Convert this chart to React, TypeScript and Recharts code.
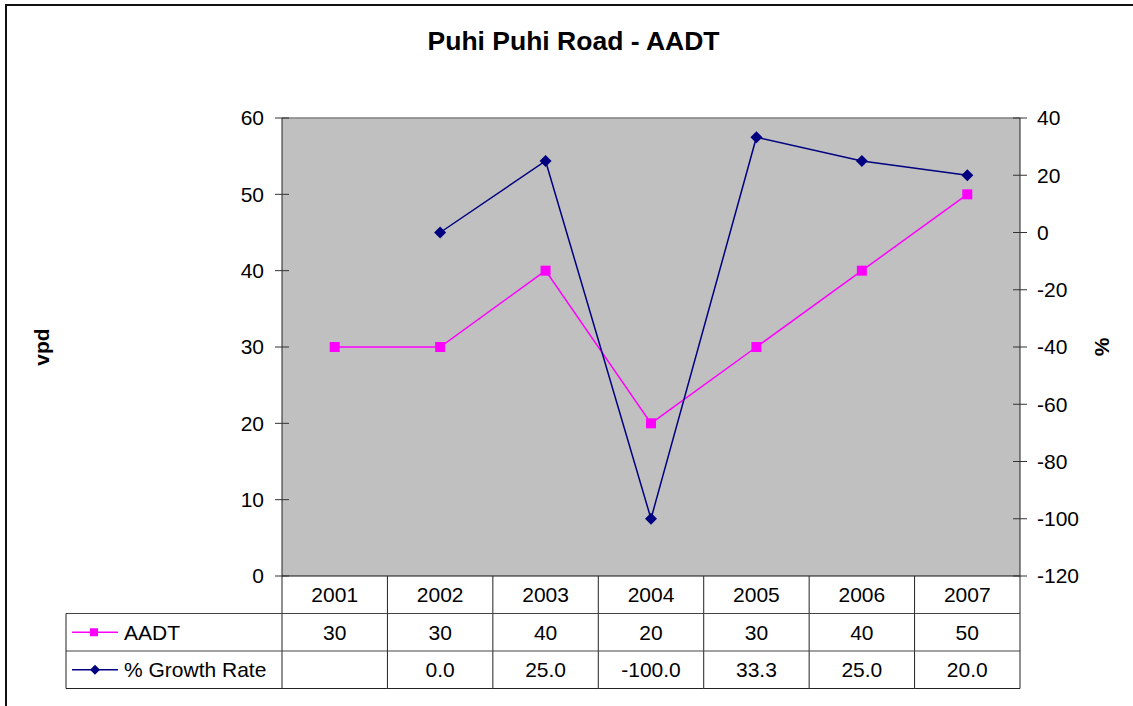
import React from "react";
import {
  ComposedChart,
  Line,
  XAxis,
  YAxis,
  CartesianGrid,
  ReferenceLine,
  Label,
} from "recharts";

const YEARS = ["2001", "2002", "2003", "2004", "2005", "2006", "2007"];
const AADT = [30, 30, 40, 20, 30, 40, 50];
const GROWTH: (number | null)[] = [null, 0.0, 25.0, -100.0, 33.3, 25.0, 20.0];
const LEFT_TICKS = [0, 10, 20, 30, 40, 50, 60];
const RIGHT_TICKS = [-120, -100, -80, -60, -40, -20, 0, 20, 40];

const FONT = '"Liberation Sans", Arial, sans-serif';
const PINK = "#FF00FF";
const NAVY = "#000080";
const ROW_H = 37.5;
const FS = 21;

const data = YEARS.map((year, i) => ({ year, aadt: AADT[i], growth: GROWTH[i] }));

const square = (props: any) => {
  const { cx, cy, index } = props;
  if (cx == null || cy == null) return <g key={`s-${index}`} />;
  return <rect key={`s-${index}`} x={cx - 5} y={cy - 5} width={10} height={10} fill={PINK} />;
};

const diamond = (props: any) => {
  const { cx, cy, index } = props;
  if (cx == null || cy == null || props.value == null) return <g key={`d-${index}`} />;
  return (
    <path
      key={`d-${index}`}
      d={`M${cx},${cy - 6} L${cx + 6},${cy} L${cx},${cy + 6} L${cx - 6},${cy} Z`}
      fill={NAVY}
    />
  );
};

// left axis: tick crosses the axis line
const LeftTick = (props: any) => {
  const { x, y, payload } = props;
  const axisX = x + 18;
  return (
    <g>
      <line x1={axisX} x2={axisX + 7} y1={y} y2={y} stroke="#333" />
      <text x={x} y={y} dy="0.35em" textAnchor="end" fontSize={FS} fontFamily={FONT} fill="#000">
        {payload.value}
      </text>
    </g>
  );
};

const RightTick = (props: any) => {
  const { x, y, payload } = props;
  const axisX = x - 17;
  return (
    <g>
      <line x1={axisX - 7} x2={axisX} y1={y} y2={y} stroke="#333" />
      <text x={x} y={y} dy="0.35em" textAnchor="start" fontSize={FS} fontFamily={FONT} fill="#000">
        {payload.value}
      </text>
    </g>
  );
};

// data table below the plot, one column per category tick
const TableTick = (props: any) => {
  const { x, y, payload, index, width, visibleTicksCount } = props;
  const band = width && visibleTicksCount ? width / visibleTicksCount : (payload.offset || 0) * 2;
  const l = x - band / 2;
  const r = x + band / 2;
  const top = y;
  const g = GROWTH[index];
  const txt = { fontSize: FS, fontFamily: FONT, fill: "#000", textAnchor: "middle" as const };
  return (
    <g>
      <line x1={r} x2={r} y1={top} y2={top + ROW_H * 3} stroke="#222" />
      {index === 0 && <line x1={l} x2={l} y1={top} y2={top + ROW_H * 3} stroke="#222" />}
      <line x1={l} x2={r} y1={top + ROW_H} y2={top + ROW_H} stroke="#444" />
      <line x1={l} x2={r} y1={top + ROW_H * 2} y2={top + ROW_H * 2} stroke="#444" />
      <line x1={l} x2={r} y1={top + ROW_H * 3} y2={top + ROW_H * 3} stroke="#222" />
      <text x={x} y={top + ROW_H * 0.5} dy="0.35em" {...txt}>{payload.value}</text>
      <text x={x} y={top + ROW_H * 1.5} dy="0.35em" {...txt}>{AADT[index]}</text>
      <text x={x} y={top + ROW_H * 2.5} dy="0.35em" {...txt}>{g == null ? "" : g.toFixed(1)}</text>
      {index === 0 && (
        <g>
          <line x1={l - 216} x2={l} y1={top + ROW_H} y2={top + ROW_H} stroke="#444" />
          <line x1={l - 216} x2={l} y1={top + ROW_H * 2} y2={top + ROW_H * 2} stroke="#444" />
          <line x1={l - 216} x2={l} y1={top + ROW_H * 3} y2={top + ROW_H * 3} stroke="#222" />
          <line x1={l - 216} x2={l - 216} y1={top + ROW_H} y2={top + ROW_H * 3} stroke="#222" />
          <line x1={l - 210} x2={l - 164} y1={top + ROW_H * 1.5} y2={top + ROW_H * 1.5} stroke={PINK} strokeWidth={1.5} />
          <rect x={l - 192} y={top + ROW_H * 1.5 - 4} width={8} height={8} fill={PINK} />
          <line x1={l - 210} x2={l - 164} y1={top + ROW_H * 2.5} y2={top + ROW_H * 2.5} stroke={NAVY} strokeWidth={1.5} />
          <path
            d={`M${l - 187},${top + ROW_H * 2.5 - 5} l5,5 l-5,5 l-5,-5 Z`}
            fill={NAVY}
          />
          <text x={l - 158} y={top + ROW_H * 1.5} dy="0.35em" fontSize={FS} fontFamily={FONT} fill="#000">AADT</text>
          <text x={l - 158} y={top + ROW_H * 2.5} dy="0.35em" fontSize={FS} fontFamily={FONT} fill="#000">% Growth Rate</text>
        </g>
      )}
    </g>
  );
};

const AxisTitle = (dx: number, text: string) => (props: any) => {
  const vb = props.viewBox || {};
  const cx = vb.x + dx;
  const cy = vb.y + vb.height / 2;
  return (
    <text
      x={cx}
      y={cy}
      transform={`rotate(-90, ${cx}, ${cy})`}
      textAnchor="middle"
      dy="0.35em"
      fontSize={FS}
      fontWeight="bold"
      fontFamily={FONT}
      fill="#000"
    >
      {text}
    </text>
  );
};

export default function App() {
  return (
    <div style={{ position: "fixed", left: 0, top: 0, width: 1133, height: 706, overflow: "hidden", background: "#fff" }}>
      <div style={{ position: "absolute", left: 5, top: 4, width: 1128, height: 2, background: "#111" }} />
      <div style={{ position: "absolute", left: 5, top: 4, width: 2, height: 702, background: "#111" }} />
      <div
        style={{
          position: "absolute",
          left: 0,
          top: 26,
          width: 1147,
          textAlign: "center",
          fontFamily: FONT,
          fontWeight: "bold",
          fontSize: 26.5,
          color: "#000",
        }}
      >
        Puhi Puhi Road - AADT
      </div>
      <div style={{ position: "absolute", left: 0, top: 0 }}>
        <ComposedChart
          width={1133}
          height={706}
          data={data}
          margin={{ top: 118, right: 53, bottom: 0, left: 222 }}
        >
          <CartesianGrid fill="#C0C0C0" horizontal={false} vertical={false} yAxisId="left" />
          <XAxis
            dataKey="year"
            scale="band"
            height={130}
            interval={0}
            axisLine={{ stroke: "#111" }}
            tickLine={false}
            tickSize={0}
            tickMargin={0}
            tick={<TableTick />}
          />
          <YAxis
            yAxisId="left"
            orientation="left"
            width={60}
            domain={[0, 60]}
            ticks={LEFT_TICKS}
            interval={0}
            axisLine={{ stroke: "#222" }}
            tickLine={{ stroke: "#333" }}
            tickSize={7}
            tickMargin={11}
            tick={<LeftTick />}
          >
            <Label content={AxisTitle(-180, "vpd")} />
          </YAxis>
          <YAxis
            yAxisId="right"
            orientation="right"
            width={60}
            domain={[-120, 40]}
            ticks={RIGHT_TICKS}
            interval={0}
            axisLine={{ stroke: "#222" }}
            tickLine={{ stroke: "#333" }}
            tickSize={7}
            tickMargin={10}
            tick={<RightTick />}
          >
            <Label content={AxisTitle(82, "%")} />
          </YAxis>
          <ReferenceLine yAxisId="left" y={60} stroke="#808080" strokeWidth={1.5} />
          <Line
            yAxisId="left"
            dataKey="aadt"
            stroke={PINK}
            strokeWidth={1.5}
            dot={square}
            isAnimationActive={false}
          />
          <Line
            yAxisId="right"
            dataKey="growth"
            stroke={NAVY}
            strokeWidth={1.5}
            dot={diamond}
            connectNulls={false}
            isAnimationActive={false}
          />
        </ComposedChart>
      </div>
    </div>
  );
}
